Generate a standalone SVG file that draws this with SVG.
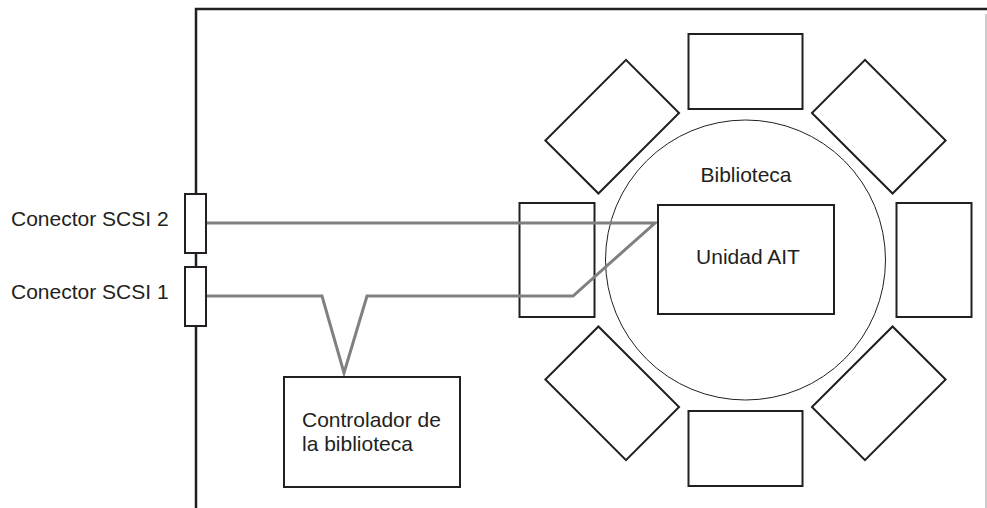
<svg xmlns="http://www.w3.org/2000/svg" width="987" height="508" viewBox="0 0 987 508">
<style>
.box{fill:#fff;stroke:#231f20;stroke-width:2}
.lbl{font-family:"Liberation Sans",Arial,sans-serif;font-size:21px;fill:#231f20}
.cable{fill:none;stroke:#808080;stroke-width:3;stroke-linejoin:miter}
</style>
<defs>
<rect id="slot" class="box" x="-57" y="-37.5" width="114" height="75"/>
</defs>
<rect width="987" height="508" fill="#fff"/>
<g id="frame">
<polyline points="196,508 196,9 987,9" fill="none" stroke="#231f20" stroke-width="2.5"/>
<line x1="986" y1="14" x2="986" y2="508" stroke="#999" stroke-width="1"/>
</g>
<g id="biblioteca">
<circle cx="745.5" cy="260" r="140" fill="none" stroke="#231f20" stroke-width="1"/>
<text class="lbl" x="746" y="182" text-anchor="middle">Biblioteca</text>
</g>
<g id="slots">
<use href="#slot" transform="translate(745.5,260) rotate(0) translate(0,-188.5)"/>
<use href="#slot" transform="translate(745.5,260) rotate(45) translate(0,-188.5)"/>
<use href="#slot" transform="translate(745.5,260) rotate(90) translate(0,-188.5)"/>
<use href="#slot" transform="translate(745.5,260) rotate(135) translate(0,-188.5)"/>
<use href="#slot" transform="translate(745.5,260) rotate(180) translate(0,-188.5)"/>
<use href="#slot" transform="translate(745.5,260) rotate(225) translate(0,-188.5)"/>
<use href="#slot" transform="translate(745.5,260) rotate(270) translate(0,-188.5)"/>
<use href="#slot" transform="translate(745.5,260) rotate(315) translate(0,-188.5)"/>
</g>
<g id="connectors">
<polyline class="cable" points="206,296 322,296 344,373 367,296 573,296 655,223 206,223"/>
</g>
<g id="unidad-ait">
<rect class="box" x="658" y="205" width="176" height="109"/>
<text class="lbl" x="748" y="264" text-anchor="middle">Unidad AIT</text>
</g>
<g id="scsi2">
<rect class="box" x="185" y="194" width="21" height="59"/>
<text class="lbl" x="11" y="226">Conector SCSI 2</text>
</g>
<g id="scsi1">
<rect class="box" x="185" y="267" width="21" height="59"/>
<text class="lbl" x="11" y="299">Conector SCSI 1</text>
</g>
<g id="controlador">
<rect class="box" x="284" y="377" width="176" height="110"/>
<text class="lbl" x="302" y="427">Controlador de</text>
<text class="lbl" x="302" y="451">la biblioteca</text>
</g>
</svg>
